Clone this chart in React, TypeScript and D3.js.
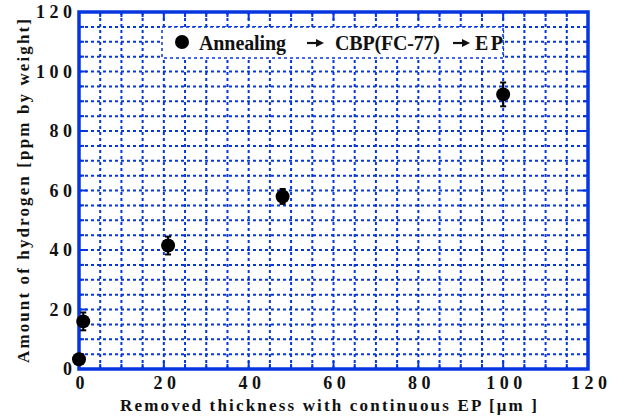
import React from 'react';
import * as d3 from 'd3';

const thickness = [0, 1, 21, 48, 100];
const hydrogen = [3.3, 16, 41.5, 58, 92.3];
const errors = [0, 3, 3, 2.5, 4];
const xTicks = [0, 20, 40, 60, 80, 100, 120];
const yTicks = [0, 20, 40, 60, 80, 100, 120];
const legendLabels = ['Annealing', 'CBP(FC-77)', 'EP'];

const BLUE = '#0636e0';
const FONT = "'Liberation Serif', 'DejaVu Serif', serif";

export default function App() {
    const margin = { top: 12, right: 32, bottom: 47, left: 79 };
    const width = 620;
    const height = 416;
    const w = width - margin.left - margin.right;
    const h = height - margin.top - margin.bottom;

    const x = d3.scaleLinear().domain([0, 120]).range([0, w]);
    const y = d3.scaleLinear().domain([0, 120]).range([h, 0]);
    const grid = d3.range(5, 120, 5);
    const minor = d3.range(0, 121, 5);

    const spaced = (s: string) => s.split('').join(' ');

    // legend layout (pixels inside the plot group)
    const lgX = [120, 256, 396];
    const lgW = [87, 105, 28];
    const arrowX = [228, 374];

    return (
        <svg width={width} height={height}
            style={{ position: 'absolute', left: 0, top: 0, background: '#fff', fontFamily: FONT, fontWeight: 'bold' }}>
            <g transform={`translate(${margin.left},${margin.top})`}>
                {grid.map(v => (
                    <line key={'gx' + v} x1={x(v)} x2={x(v)} y1={0} y2={h}
                        stroke={BLUE} strokeWidth={2} strokeDasharray="3,3" />
                ))}
                {grid.map(v => (
                    <line key={'gy' + v} x1={0} x2={w} y1={y(v)} y2={y(v)}
                        stroke={BLUE} strokeWidth={2} strokeDasharray="3,3" />
                ))}
                {/* legend box */}
                <rect x={83} y={15} width={341} height={31}
                    fill="#fff" stroke={BLUE} strokeWidth={1.5} strokeDasharray="3,3" />
                <circle cx={103} cy={30} r={7} fill="#000" />
                {legendLabels.map((t, i) => (
                    <text key={i} x={lgX[i]} y={38} fontSize={20} fill="#111"
                        textLength={lgW[i]} lengthAdjust="spacing">{t}</text>
                ))}
                {arrowX.map((ax, i) => (
                    <g key={'a' + i}>
                        <line x1={ax} x2={ax + 11} y1={31} y2={31} stroke="#111" strokeWidth={2.2} />
                        <path d={`M${ax + 17},31 L${ax + 9},27 L${ax + 9},35 Z`} fill="#111" />
                    </g>
                ))}
                {/* ticks */}
                {minor.map(v => (
                    <g key={'t' + v}>
                        <line x1={0} x2={v % 20 === 0 ? 8 : 5} y1={y(v)} y2={y(v)} stroke={BLUE} strokeWidth={2} />
                        <line x1={w} x2={w - (v % 20 === 0 ? 8 : 5)} y1={y(v)} y2={y(v)} stroke={BLUE} strokeWidth={2} />
                        <line y1={h} y2={h - (v % 20 === 0 ? 8 : 5)} x1={x(v)} x2={x(v)} stroke={BLUE} strokeWidth={2} />
                        <line y1={0} y2={v % 20 === 0 ? 8 : 5} x1={x(v)} x2={x(v)} stroke={BLUE} strokeWidth={2} />
                    </g>
                ))}
                <rect x={0} y={0} width={w} height={h} fill="none" stroke={BLUE} strokeWidth={3.5} />
                {/* data */}
                {thickness.map((t, i) => (
                    <g key={'p' + i}>
                        {errors[i] > 0 && (
                            <g stroke="#000" strokeWidth={2}>
                                <line x1={x(t)} x2={x(t)} y1={y(hydrogen[i] + errors[i])} y2={y(hydrogen[i] - errors[i])} />
                                <line x1={x(t) - 3} x2={x(t) + 3} y1={y(hydrogen[i] + errors[i])} y2={y(hydrogen[i] + errors[i])} />
                                <line x1={x(t) - 3} x2={x(t) + 3} y1={y(hydrogen[i] - errors[i])} y2={y(hydrogen[i] - errors[i])} />
                            </g>
                        )}
                        <circle cx={x(t)} cy={y(hydrogen[i])} r={7} fill="#000" />
                    </g>
                ))}
                {/* tick labels */}
                {yTicks.map(v => (
                    <text key={'yl' + v} x={-7} y={y(v) + 6} textAnchor="end"
                        fontSize={18} fill="#111">{spaced(String(v))}</text>
                ))}
                {xTicks.map(v => (
                    <text key={'xl' + v} x={x(v) + 1} y={h + 20} textAnchor="middle"
                        fontSize={18} fill="#111">{spaced(String(v))}</text>
                ))}
                <text x={41} y={h + 42} fontSize={17} fill="#111" textLength={417} lengthAdjust="spacing">
                    Removed thickness with continuous EP [{'\u03bc'}m ]
                </text>
                <text transform={`translate(${-50},${h - 6}) rotate(-90)`}
                    fontSize={17} fill="#111" textLength={344} lengthAdjust="spacing">
                    Amount of hydrogen [ppm by weight]
                </text>
            </g>
        </svg>
    );
}
